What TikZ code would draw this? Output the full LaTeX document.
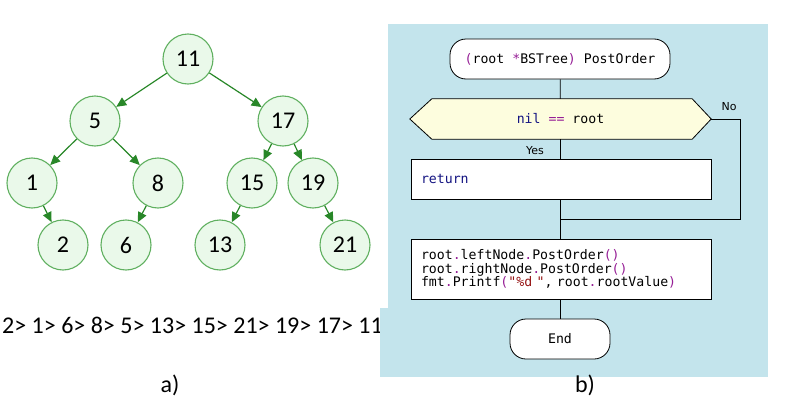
\documentclass[tikz,border=0pt]{standalone}
\usepackage{fontspec}
\setmainfont{Carlito}
\newfontfamily\codefont{DejaVu Sans Mono}
\newfontfamily\labelfont{DejaVu Sans}
\usetikzlibrary{arrows.meta}

\definecolor{panelblue}{RGB}{195,228,236}
\definecolor{nodefill}{RGB}{234,249,234}
\definecolor{nodeline}{RGB}{96,176,96}
\definecolor{edgegreen}{RGB}{40,135,40}
\definecolor{decfill}{RGB}{253,253,222}
\definecolor{kwpurple}{RGB}{150,30,150}
\definecolor{kwnavy}{RGB}{20,20,130}
\definecolor{strred}{RGB}{150,20,20}

\tikzset{
  treenode/.style={circle, draw=nodeline, line width=1.1pt, fill=nodefill,
    minimum size=50pt, inner sep=0pt, font=\fontsize{24}{24}\selectfont},
  treeedge/.style={draw=edgegreen, line width=1.2pt,
    -{Triangle[length=10pt,width=9pt]}},
  terminal/.style={draw=black, line width=0.8pt, fill=white, rounded corners=16pt,
    inner sep=0pt, font=\codefont\fontsize{13.2}{13.5}\selectfont},
  procbox/.style={draw=black, line width=0.8pt, fill=white, inner xsep=10pt,
    inner ysep=0pt, text width=280pt, align=left, minimum width=300pt,
    font=\codefont\fontsize{13.2}{13.5}\selectfont},
  flow/.style={draw=black, line width=0.8pt},
  branchlabel/.style={font=\labelfont\fontsize{11}{11}\selectfont, inner sep=0pt},
  caption/.style={font=\fontsize{24}{24}\selectfont, inner sep=0pt}
}
\newcommand{\kp}[1]{\textcolor{kwpurple}{#1}}

\begin{document}
\begin{tikzpicture}[x=1pt,y=-1pt]
\useasboundingbox (0,0) rectangle (793,415);

% ---------- binary search tree ----------
\node[treenode] (n11) at (188,59)  {11};
\node[treenode] (n5)  at (95,121)  {5};
\node[treenode] (n17) at (283,121) {17};
\node[treenode] (n1)  at (32,183)  {1};
\node[treenode] (n8)  at (158,183) {8};
\node[treenode] (n15) at (252,183) {15};
\node[treenode] (n19) at (313,183) {19};
\node[treenode] (n2)  at (63,245)  {2};
\node[treenode] (n6)  at (126,245) {6};
\node[treenode] (n13) at (220,245) {13};
\node[treenode] (n21) at (345,245) {21};

\draw[treeedge] (n11) -- (n5);
\draw[treeedge] (n11) -- (n17);
\draw[treeedge] (n5) -- (n1);
\draw[treeedge] (n5) -- (n8);
\draw[treeedge] (n17) -- (n15);
\draw[treeedge] (n17) -- (n19);
\draw[treeedge] (n1) -- (n2);
\draw[treeedge] (n8) -- (n6);
\draw[treeedge] (n15) -- (n13);
\draw[treeedge] (n19) -- (n21);

% post-order sequence
\node[caption, anchor=west] (seq) at (2,325)
  {2>\ 1>\ 6>\ 8>\ 5>\ 13>\ 15>\ 21>\ 19>\ 17>\ 11};
\node[caption] (capa) at (170,385) {a)};

% ---------- flowchart of PostOrder ----------
\fill[panelblue] (388,24) rectangle (768,377);
\fill[panelblue] (380,308) rectangle (388,377);

\node[terminal, minimum width=220pt, minimum height=40pt] (start) at (560,59)
  {\kp{(}root \kp{*}BSTree\kp{)} PostOrder};

% decision hexagon
\path node[minimum width=301pt, minimum height=40pt, inner sep=0pt] (dec) at (560.5,119) {};
\filldraw[flow, fill=decfill]
  (dec.west) -- ([xshift=22pt]dec.north west) -- ([xshift=-19pt]dec.north east)
  -- (dec.east) -- ([xshift=-19pt]dec.south east) -- ([xshift=22pt]dec.south west)
  -- cycle;
\node[font=\codefont\fontsize{13.2}{13.5}\selectfont, inner sep=0pt] (dectext) at (dec)
  {\textcolor{kwnavy}{nil} \kp{==} root};

\node[procbox, minimum height=40pt] (ret) at (561,179)
  {\textcolor{kwnavy}{return}};

\node[procbox, minimum height=60pt] (proc) at (561,269)
  {root\kp{.}leftNode\kp{.}PostOrder\kp{()}\\
   root\kp{.}rightNode\kp{.}PostOrder\kp{()}\\
   fmt\kp{.}Printf\kp{(}\textcolor{strred}{"\%d\ "},\ root\kp{.}rootValue\kp{)}};

\node[terminal, minimum width=100pt, minimum height=40pt] (endn) at (560,339) {End};

\coordinate (join) at (560,219);
\coordinate (nobend) at (740,119);

\draw[flow] (start) -- (dec);
\draw[flow] (dec.south -| start) -- (ret.north -| start);
\draw[flow] (ret.south -| start) -- (proc.north -| start);
\draw[flow] (dec.east) -- (nobend) |- (join);
\draw[flow] (proc.south -| endn) -- (endn);

\node[branchlabel] (yes) at (535,151) {Yes};
\node[branchlabel] (no) at (729,107) {No};

\node[caption] (capb) at (585,385) {b)};
\end{tikzpicture}
\end{document}
